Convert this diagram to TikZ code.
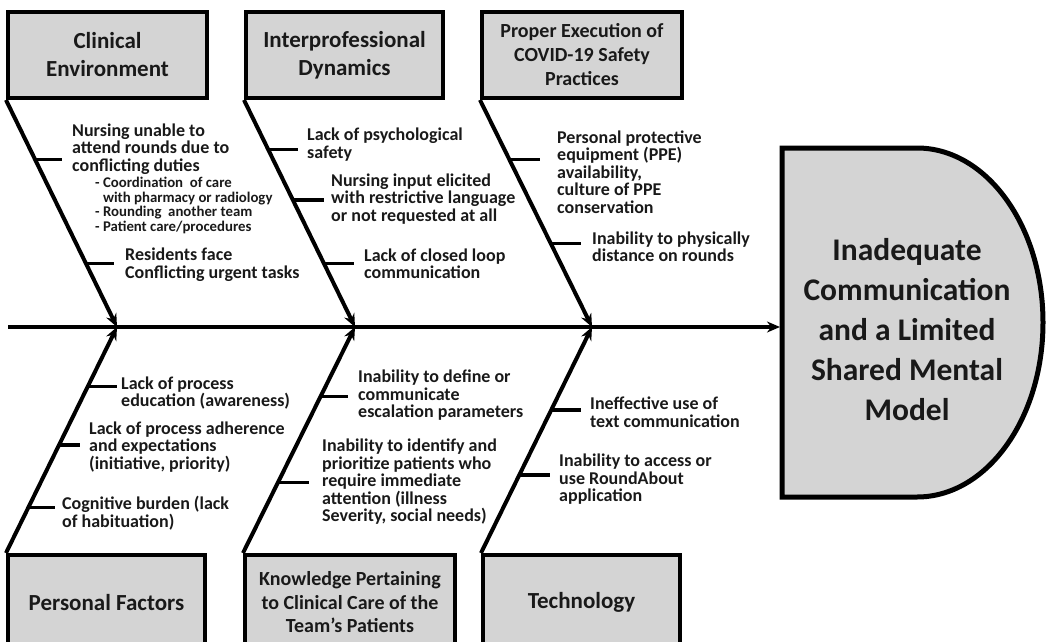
\documentclass[tikz,border=0pt]{standalone}
\usepackage{fontspec}
\setmainfont{Carlito}
\usetikzlibrary{arrows.meta,calc}
\definecolor{boxgray}{RGB}{212,212,212}
\definecolor{ink}{RGB}{25,25,25}
\begin{document}
\begin{tikzpicture}[x=1pt,y=-1pt,
  cat/.style={draw=black,line width=4pt,fill=boxgray,align=center,inner sep=0pt,text=ink,
    font=\bfseries\fontsize{23}{28}\selectfont,minimum height=86pt},
  lbl/.style={anchor=west,align=left,inner sep=0pt,text=ink,font=\bfseries\fontsize{18}{17.5}\selectfont},
  sublbl/.style={anchor=west,align=left,inner sep=0pt,text=ink,font=\bfseries\fontsize{14.8}{14.5}\selectfont},
  bone/.style={line width=4pt,-{Stealth[length=13pt,width=11pt]}},
  tick/.style={line width=3.5pt},
]
\useasboundingbox (0,0) rectangle (1047,642);

% category boxes
\node[cat,minimum width=199pt] (c1) at (107.5,55) {Clinical\\Environment};
\node[cat,minimum width=197pt] (c2) at (344.5,55) {Interprofessional\\Dynamics};
\node[cat,minimum width=200pt,font=\bfseries\fontsize{20}{24}\selectfont] (c3) at (582,55) {Proper Execution of\\COVID-19 Safety\\Practices};
\node[cat,minimum width=197pt,minimum height=95pt] (c4) at (106.5,602.5) {Personal Factors};
\node[cat,minimum width=210pt,minimum height=95pt,font=\bfseries\fontsize{20}{23.5}\selectfont] (c5) at (350,602.5) {Knowledge Pertaining\\to Clinical Care of the\\Team’s Patients};
\node[cat,minimum width=197pt,minimum height=95pt] (c6) at (581.5,602.5) {Technology};

% head
\draw[line width=5pt,fill=boxgray] (782,148) -- (917,148)
  arc[start angle=-90,end angle=90,x radius=126,y radius=174.5] -- (782,497) -- cycle;
\node[font=\bfseries\fontsize{31.5}{40}\selectfont,align=center,text=ink] (head) at (907,330)
  {Inadequate\\Communication\\and a Limited\\Shared Mental\\Model};

% spine
\coordinate (s0) at (8,327);
\coordinate (hw) at (780,327);
\coordinate (j1) at (117,327);
\coordinate (j2) at (355,327);
\coordinate (j3) at (592,327);
\draw[bone] (s0) -- (hw);

% bones
\draw[bone] (c1.south west) -- (j1);
\draw[bone] (c2.south west) -- (j2);
\draw[bone] (c3.south west) -- (j3);
\draw[bone] (c4.north west) -- (j1);
\draw[bone] (c5.north west) -- (j2);
\draw[bone] (c6.north west) -- (j3);

% tick points
\coordinate (a1) at ($(c1.south west)!0.262!(j1)$);
\coordinate (a2) at ($(c1.south west)!0.7205!(j1)$);
\coordinate (b1) at ($(c2.south west)!0.218!(j2)$);
\coordinate (b2) at ($(c2.south west)!0.441!(j2)$);
\coordinate (b3) at ($(c2.south west)!0.7205!(j2)$);
\coordinate (d1) at ($(c3.south west)!0.262!(j3)$);
\coordinate (d2) at ($(c3.south west)!0.633!(j3)$);
\coordinate (e1) at ($(c4.north west)!0.737!(j1)$);
\coordinate (e2) at ($(c4.north west)!0.478!(j1)$);
\coordinate (e3) at ($(c4.north west)!0.202!(j1)$);
\coordinate (f1) at ($(c5.north west)!0.693!(j2)$);
\coordinate (f2) at ($(c5.north west)!0.311!(j2)$);
\coordinate (g1) at ($(c6.north west)!0.632!(j3)$);
\coordinate (g2) at ($(c6.north west)!0.346!(j3)$);

\foreach \p/\l in {a1/27,a2/28,b1/30,b2/31,b3/30,d1/31,d2/30,e1/29,e2/21,e3/27,f1/27,f2/31,g1/30,g2/31}
  \draw[tick] (\p) -- ++(\l,0);

% labels
\node[lbl] (t1) at (72,149) {Nursing unable to\\attend rounds due to\\conflicting duties};
\node[sublbl] (t1s) at (95,205.5) {- Coordination\ \ of care\\\phantom{- }with pharmacy or radiology\\- Rounding\ \ another team\\- Patient care/procedures};
\node[lbl] (t2) at (125,264.5) {Residents face\\Conflicting urgent tasks};
\node[lbl] (t3) at (307,144.5) {Lack of psychological\\safety};
\node[lbl] (t4) at (331,199) {Nursing input elicited\\with restrictive language\\or not requested at all};
\node[lbl] (t5) at (364,263.5) {Lack of closed loop\\communication};
\node[lbl] (t6) at (557,172) {Personal protective\\equipment (PPE)\\availability,\\culture of PPE\\conservation};
\node[lbl] (t7) at (592,246.5) {Inability to physically\\distance on rounds};
\node[lbl] (u1) at (121,393) {Lack of process\\education (awareness)};
\node[lbl] (u2) at (89,447) {Lack of process adherence\\and expectations\\(initiative, priority)};
\node[lbl] (u3) at (62,513) {Cognitive burden (lack\\of habituation)};
\node[lbl] (u4) at (358,395.5) {Inability to define or\\communicate\\escalation parameters};
\node[lbl] (u5) at (322,482) {Inability to identify and\\prioritize patients who\\require immediate\\attention (illness\\Severity, social needs)};
\node[lbl] (u6) at (590,412) {Ineffective use of\\text communication};
\node[lbl] (u7) at (559,479.5) {Inability to access or\\use RoundAbout\\application};
\end{tikzpicture}
\end{document}
